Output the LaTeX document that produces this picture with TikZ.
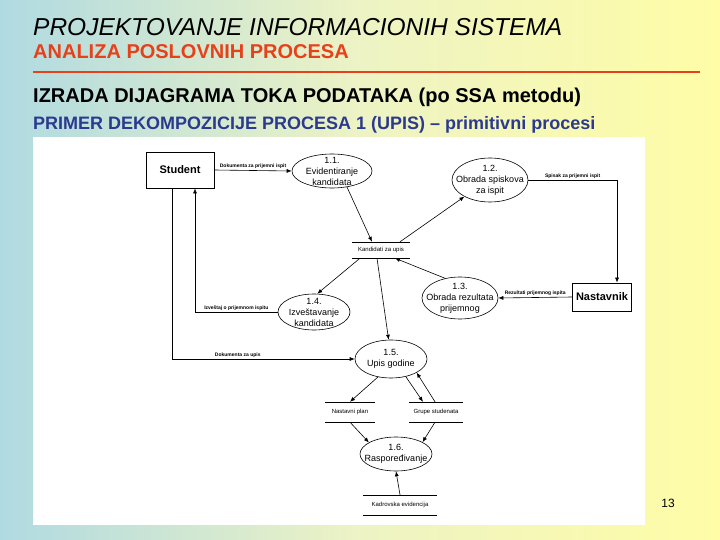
\documentclass[tikz,border=0pt]{standalone}
\usepackage{fontspec}
\setmainfont{Liberation Sans}
\usepackage{xcolor}
\usepackage{tikz}
\usetikzlibrary{shapes.geometric, arrows.meta, positioning, calc}
\definecolor{bgblue}{HTML}{B0DAE2}
\definecolor{bgmid}{HTML}{EDF3C4}
\definecolor{bgyellow}{HTML}{FFFDA6}
\definecolor{titlered}{HTML}{E5411B}
\definecolor{subblue}{HTML}{2B3A8F}

\begin{document}
\begin{tikzpicture}[x=1pt, y=-1pt,
    entity/.style={draw, line width=0.8pt, inner sep=0pt,
                   font=\fontsize{11}{13}\selectfont\bfseries},
    proc/.style={draw, ellipse, inner sep=0pt, line width=0.6pt},
    ptext/.style={font=\fontsize{9}{11}\selectfont, align=center, inner sep=0pt},
    store/.style={inner sep=0pt, font=\fontsize{6}{7}\selectfont},
    storeline/.style={line width=0.6pt},
    flow/.style={-{Latex[length=5pt, width=4pt]}, line width=0.6pt},
    flowlbl/.style={font=\fontsize{5}{6}\selectfont\bfseries, inner sep=1.5pt},
    heading/.style={anchor=base west, inner sep=0pt}
  ]
    \useasboundingbox (0,0) rectangle (720,540);
    \fill[left color=bgblue, right color=bgyellow, middle color=bgmid] (0,0) rectangle (720,540);

    % Headings
    \node[heading, font=\fontsize{24.5}{27}\selectfont\itshape] (title) at (33,36)
      {PROJEKTOVANJE INFORMACIONIH SISTEMA};
    \node[heading, font=\fontsize{20}{22}\selectfont\bfseries, text=titlered] (sub) at (33,59)
      {ANALIZA POSLOVNIH PROCESA};
    \draw[titlered, line width=2.5pt] (33,72) -- (700,72);
    \node[heading, font=\fontsize{20}{22}\selectfont\bfseries] (head) at (33,103)
      {IZRADA DIJAGRAMA TOKA PODATAKA (po SSA metodu)};
    \node[heading, font=\fontsize{18}{20}\selectfont\bfseries, text=subblue] (ex) at (33,130)
      {PRIMER DEKOMPOZICIJE PROCESA 1 (UPIS) – primitivni procesi};
    \node[font=\fontsize{12}{14}\selectfont] (pg) at (668,503) {13};

    % Panel
    \fill[white] (33,137) rectangle (645,525);

    % Terminators
    \node[entity, minimum width=68pt, minimum height=36pt] (stud) at (180,170) {Student};
    \node[entity, minimum width=59pt, minimum height=28pt] (nast) at (602,297) {Nastavnik};

    % Processes
    \node[proc, minimum width=80pt, minimum height=34pt,
          label={[ptext]center:{1.1.\\Evidentiranje\\kandidata}}] (p11) at (332,171) {};
    \node[proc, minimum width=76pt, minimum height=44pt,
          label={[ptext]center:{1.2.\\Obrada spiskova\\za ispit}}] (p12) at (490,180) {};
    \node[proc, minimum width=76pt, minimum height=42pt,
          label={[ptext]center:{1.3.\\Obrada rezultata\\prijemnog}}] (p13) at (460,298) {};
    \node[proc, minimum width=72pt, minimum height=36pt,
          label={[ptext]center:{1.4.\\Izveštavanje\\kandidata}}] (p14) at (314,312) {};
    \node[proc, minimum width=72pt, minimum height=38pt,
          label={[ptext]center:{1.5.\\Upis godine}}] (p15) at (391,359) {};
    \node[proc, minimum width=72pt, minimum height=34pt,
          label={[ptext]center:{1.6.\\Raspoređivanje}}] (p16) at (396,454) {};

    % Data stores
    \node[store, minimum width=57pt, minimum height=16pt] (kz) at (381,250) {Kandidati za upis};
    \node[store, minimum width=50pt, minimum height=20pt] (np) at (350,412) {Nastavni plan};
    \node[store, minimum width=53pt, minimum height=20pt] (gs) at (436,412) {Grupe studenata};
    \node[store, minimum width=74pt, minimum height=20pt] (ke) at (400,505) {Kadrovska evidencija};
    \foreach \s in {kz,np,gs,ke}
      \draw[storeline] (\s.north west) -- (\s.north east) (\s.south west) -- (\s.south east);

    % Flows
    \draw[flow] (stud.east) -- node[flowlbl, above] {Dokumenta za prijemni ispit} (p11.west);
    \draw[flow] (p11.-47) -- ([xshift=-9pt]kz.north);
    \draw[flow] ([xshift=19pt]kz.north) -- (p12.-147);
    \draw[flow] (p12.east) -| node[flowlbl, above, pos=0.25] {Spisak za prijemni ispit}
      ([xshift=15pt]nast.north);
    \draw[flow] (nast.west) -- node[flowlbl, above] {Rezultati prijemnog ispita} (p13.east);
    \draw[flow] (p13.127) -- ([xshift=14pt]kz.south);
    \draw[flow] ([xshift=-21pt]kz.south) -- (p14.80);
    \draw[flow] ([xshift=-4pt]kz.south) -- (p15.97);
    \draw[flow] (p14.west) -| node[flowlbl, above, pos=0.25] {Izveštaj o prijemnom ispitu}
      ([xshift=15pt]stud.south);
    \draw[flow] ([xshift=-8pt]stud.south) |- node[flowlbl, above, pos=0.68] {Dokumenta za upis}
      (p15.west);
    \draw[flow] (p15.-126) -- (np.north);
    \draw[flow] (p15.-50) -- ([xshift=-13pt]gs.north);
    \draw[flow] ([xshift=-1pt]gs.north) -- (p15.-28);
    \draw[flow] (np.south) -- (p16.157);
    \draw[flow] ([xshift=-1pt]gs.south) -- (p16.24);
    \draw[flow] (ke.north) -- (p16.south);
\end{tikzpicture}
\end{document}
